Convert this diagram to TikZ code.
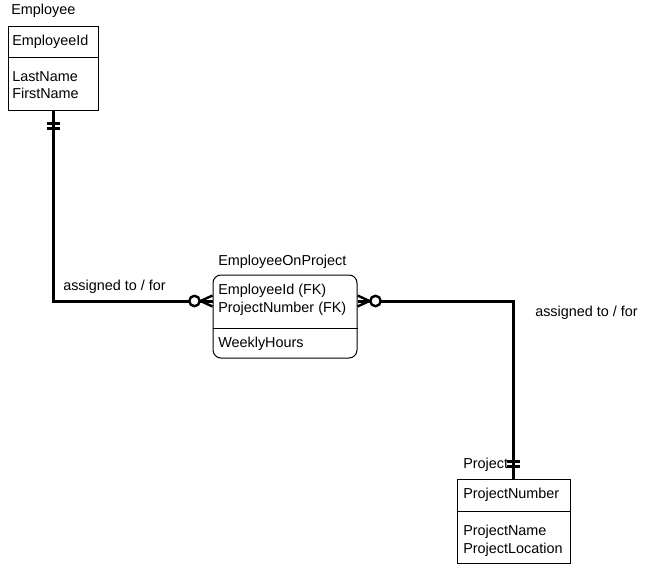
\documentclass[tikz,border=0pt]{standalone}
\usepackage{fontspec}
\setmainfont{Liberation Sans}
\usetikzlibrary{calc}
\begin{document}
\begin{tikzpicture}[x=0.75pt,y=-0.75pt,
  font=\fontsize{10.8}{12}\selectfont,
  lbl/.style={anchor=base west, inner sep=0pt},
  ent/.style={draw, line width=0.75pt, inner sep=0pt},
  rel/.style={line width=2.25pt},
  tick/.style={line width=2pt},
  crow/.style={line width=1.8pt},
  ring/.style={line width=1.8pt, fill=white}]
\useasboundingbox (0,0) rectangle (660,574);
% Employee
\node[lbl] (empname) at (11,15) {Employee};
\node[ent, minimum width=67.5pt, minimum height=63pt] (emp) at (53,69) {};
\draw[line width=0.75pt] (emp.west |- 0,58) -- (emp.east |- 0,58);
\node[lbl] (empk) at (12,46) {EmployeeId};
\node[lbl] (empa1) at (12,82) {LastName};
\node[lbl] (empa2) at (12,99) {FirstName};
% EmployeeOnProject
\node[lbl] (eopname) at (218,265) {EmployeeOnProject};
\node[ent, rounded corners=6pt, minimum width=108pt, minimum height=62.25pt] (eop) at (285,316.5) {};
\draw[line width=0.75pt] (eop.west |- 0,328) -- (eop.east |- 0,328);
\node[lbl] (eopk1) at (218,294) {EmployeeId (FK)};
\node[lbl] (eopk2) at (218,312) {ProjectNumber (FK)};
\node[lbl] (eopa1) at (218,347) {WeeklyHours};
% Project
\node[lbl] (projname) at (463,468) {Project};
\node[ent, minimum width=84.75pt, minimum height=63pt] (proj) at (513.5,521) {};
\draw[line width=0.75pt] (proj.west |- 0,511) -- (proj.east |- 0,511);
\node[lbl] (projk) at (463,498) {ProjectNumber};
\node[lbl] (proja1) at (463,535) {ProjectName};
\node[lbl] (proja2) at (463,553) {ProjectLocation};
% relationship labels
\node[lbl] (r1) at (63,290) {assigned to / for};
\node[lbl] (r2) at (535,316) {assigned to / for};
% connectors
\coordinate (mid) at (0,301);
\draw[rel] (emp.south) |- (eop.west |- mid);
\draw[rel] (eop.east |- mid) -| (proj.north);
% one-and-only marks
\draw[tick] ($(emp.south)+(-6.5,12)$) -- ++(13,0);
\draw[tick] ($(emp.south)+(-6.5,17)$) -- ++(13,0);
\draw[tick] ($(proj.north)+(-6.5,-17)$) -- ++(13,0);
\draw[tick] ($(proj.north)+(-6.5,-12)$) -- ++(13,0);
% zero-or-many marks
\coordinate (le) at (eop.west |- mid);
\coordinate (re) at (eop.east |- mid);
\draw[crow] ($(le)+(-12,0)$) -- ($(le)+(0,-5.5)$);
\draw[crow] ($(le)+(-12,0)$) -- ($(le)+(0,5.5)$);
\draw[ring] ($(le)+(-18,0)$) circle (3.9pt);
\draw[crow] ($(re)+(12,0)$) -- ($(re)+(0,-5.5)$);
\draw[crow] ($(re)+(12,0)$) -- ($(re)+(0,5.5)$);
\draw[ring] ($(re)+(18,0)$) circle (3.9pt);
\end{tikzpicture}
\end{document}
